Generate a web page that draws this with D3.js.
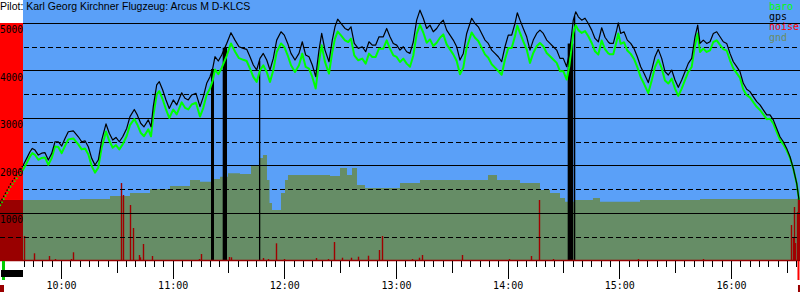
<!DOCTYPE html>
<html>
<head>
<meta charset="utf-8">
<script src="https://cdn.jsdelivr.net/npm/d3@7"></script>
<style>
  body { margin: 0; background: #fff; }
  svg { display: block; }
</style>
</head>
<body>
<div id="chart"></div>
<script>
// flight trace
var times = [
  "09:27:13","09:33:08","09:39:45","09:41:34","09:43:20","09:44:35","09:46:02","09:47:48","09:49:38","09:51:24",
  "09:53:11","09:55:00","09:56:47","09:58:33","10:00:23","10:02:09","10:03:55","10:06:37","10:09:18","10:11:07",
  "10:12:54","10:14:40","10:16:30","10:18:16","10:20:02","10:21:52","10:24:11","10:25:57","10:27:47","10:29:33",
  "10:31:20","10:33:09","10:35:18","10:37:04","10:39:23","10:41:00","10:42:49","10:44:36","10:46:55","10:48:22",
  "10:49:35","10:51:25","10:52:49","10:54:39","10:56:25","10:58:11","11:00:20","11:02:10","11:04:51","11:06:38",
  "11:08:24","11:10:14","11:12:32","11:14:41","11:16:28","11:18:17","11:20:04","11:21:31","11:22:45","11:24:31",
  "11:26:21","11:29:02","11:31:20","11:33:29","11:35:38","11:37:57","11:39:47","11:41:33","11:43:20","11:45:09",
  "11:46:55","11:48:42","11:50:32","11:52:18","11:54:04","11:55:54","11:58:13","11:59:59","12:01:49","12:03:35",
  "12:05:44","12:07:53","12:09:39","12:11:29","12:13:15","12:15:02","12:16:51","12:18:38","12:20:05","12:21:51",
  "12:24:00","12:25:46","12:27:13","12:28:40","12:30:27","12:32:36","12:34:22","12:35:49","12:37:35","12:39:44",
  "12:41:53","12:43:43","12:45:29","12:47:16","12:49:05","12:50:52","12:53:10","12:55:00","12:56:46","12:58:33",
  "13:00:22","13:02:09","13:03:55","13:05:45","13:07:31","13:09:17","13:11:07","13:12:53","13:14:40","13:16:29",
  "13:18:16","13:20:02","13:21:52","13:23:38","13:25:25","13:27:14","13:29:01","13:30:47","13:32:37","13:34:23",
  "13:36:10","13:37:59","13:40:40","13:42:27","13:44:13","13:46:03","13:47:49","13:49:35","13:51:25","13:53:11",
  "13:54:58","13:56:47","13:58:34","14:00:20","14:02:10","14:03:56","14:05:11","14:06:38","14:08:24","14:10:14",
  "14:12:00","14:13:46","14:15:36","14:17:22","14:19:09","14:20:59","14:22:45","14:24:31","14:26:21","14:28:07",
  "14:29:54","14:31:43","14:33:07","14:34:25","14:35:16","14:36:34","14:37:58","14:39:47","14:41:34","14:43:20",
  "14:45:10","14:46:56","14:48:43","14:50:32","14:52:18","14:54:05","14:55:00","14:56:46","14:58:35","14:59:27",
  "15:00:44","15:02:31","15:04:17","15:06:07","15:07:53","15:09:40","15:11:29","15:13:16","15:15:34","15:17:24",
  "15:19:10","15:20:56","15:22:46","15:24:32","15:26:19","15:28:09","15:29:55","15:31:41","15:33:31","15:35:17",
  "15:37:04","15:38:53","15:40:40","15:42:07","15:43:21","15:45:08","15:46:57","15:48:44","15:50:30","15:52:20",
  "15:54:06","15:55:52","15:57:42","15:59:28","16:01:15","16:03:04","16:04:50","16:06:37","16:08:27","16:10:13",
  "16:11:59","16:13:49","16:15:35","16:17:22","16:19:11","16:20:58","16:22:44","16:24:34","16:26:20","16:28:07",
  "16:29:56","16:31:43","16:33:29","16:35:19","16:36:33"
];
var gps = [
  1210,1630,2010,2150,2290,2360,2325,2220,2260,2270,
  2115,2255,2500,2500,2410,2570,2710,2730,2605,2500,
  2520,2395,2150,2010,2115,2535,2875,2680,2535,2590,
  2500,2605,2780,3030,3180,3065,2890,2815,2960,2815,
  3240,3695,3765,3590,3380,3200,3380,3275,3530,3415,
  3380,3485,3520,3240,3445,3730,3870,4045,4290,4200,
  4325,4570,4795,4640,4500,4465,4445,4290,4115,4010,
  4255,4360,4220,4010,4255,4640,4815,4745,4570,4360,
  4220,4360,4605,4325,4290,4115,3870,4430,4780,4430,
  4185,4640,4920,5080,4990,4885,4850,4920,4570,4465,
  4500,4395,4605,4535,4535,4710,4710,4885,4710,4570,
  4535,4430,4500,4395,4360,4600,5060,5270,5100,4885,
  4955,4815,4885,4990,5060,4850,4745,4640,4500,4220,
  4360,4780,5100,4990,4920,4780,4640,4570,4430,4360,
  4290,4185,4500,4745,4745,4990,5215,5060,4885,4710,
  4430,4640,4780,4850,4780,4640,4570,4500,4430,4255,
  4255,4080,4360,4780,5060,5235,5130,5060,5100,4990,
  4850,4675,4605,4900,4700,4600,4570,4570,4850,5005,
  4780,4815,4640,4570,4465,4290,4080,3940,3745,4010,
  4290,4445,4255,3975,3905,4010,3800,3645,3800,3975,
  4150,4255,4710,4955,4570,4640,4570,4605,4780,4815,
  4710,4605,4570,4360,4185,4080,3975,3730,3605,3555,
  3450,3345,3275,3170,3065,3065,2960,2780,2605,2500,
  2360,2185,1940,1625,1275
];
var baro = [
  1150,1560,1920,2050,2190,2260,2225,2120,2160,2170,
  2015,2155,2400,2390,2260,2410,2550,2570,2445,2340,
  2360,2235,1990,1850,1955,2375,2715,2520,2375,2430,
  2340,2445,2620,2850,2980,2865,2690,2615,2760,2615,
  3040,3495,3565,3390,3180,3000,3180,3075,3330,3215,
  3180,3285,3320,3030,3215,3490,3620,3790,4020,3920,
  4055,4310,4570,4400,4260,4225,4200,4040,3865,3760,
  4005,4110,3970,3760,4005,4390,4570,4495,4320,4110,
  3970,4110,4355,4075,4040,3865,3620,4180,4530,4180,
  3935,4390,4670,4820,4740,4635,4600,4670,4320,4215,
  4250,4145,4355,4285,4285,4460,4460,4635,4460,4320,
  4285,4180,4250,4145,4080,4310,4770,4960,4800,4585,
  4655,4515,4585,4690,4760,4550,4445,4340,4200,3920,
  4060,4480,4800,4690,4620,4480,4340,4270,4130,4060,
  3990,3910,4230,4475,4475,4720,4945,4790,4615,4440,
  4160,4370,4510,4580,4510,4370,4300,4230,4160,3985,
  3985,3810,4090,4510,4790,4955,4850,4790,4830,4720,
  4580,4405,4335,4630,4450,4360,4340,4340,4620,4780,
  4560,4595,4420,4350,4245,4070,3860,3720,3525,3790,
  4070,4225,4050,3790,3725,3830,3620,3465,3620,3795,
  3970,4075,4530,4780,4390,4460,4390,4425,4600,4635,
  4540,4450,4420,4215,4045,3945,3845,3600,3480,3435,
  3335,3235,3170,3075,2975,2985,2885,2710,2540,2445,
  2320,2160,1930,1620,1275
];

// terrain under the track (step values)
var gndTimes = [
  "09:39:35","10:10:12","10:26:20","10:37:04","10:47:49","10:58:34","11:09:19","11:14:41","11:21:40","11:25:26",
  "11:29:44","11:36:10","11:42:05","11:46:23","11:48:32","11:50:41","11:52:02","11:53:22","11:58:13","12:00:22",
  "12:01:58","12:24:32","12:29:55","12:33:40","12:36:22","12:39:03","12:43:20","13:02:09","13:12:53","13:49:26",
  "13:54:16","14:06:38","14:17:22","14:22:45","14:28:07","14:30:49","14:36:11","14:45:51","14:49:37","15:11:07",
  "15:43:21","16:36:45"
];
var gnd = [
  1274,1295,1358,1421,1505,1568,1695,1659,1716,1764,
  1836,1821,2010,2158,2221,1695,1210,1063,1421,1695,
  1800,1779,1947,1800,1947,1589,1526,1631,1695,1800,
  1695,1631,1484,1421,1316,1238,1274,1316,1238,1274,
  1295,1295
];

// engine noise level
var noiseTimes = [
  "09:40:17","09:45:39","09:53:43","09:56:47","10:05:22","10:06:37","10:32:14","10:33:03","10:37:04","10:38:41",
  "10:42:04","10:42:37","10:44:13","10:48:44","11:14:19","11:15:23","11:30:26","11:31:11","11:48:42","11:51:23",
  "11:55:41","11:59:59","12:16:51","12:23:37","12:26:41","12:30:49","12:35:40","12:39:44","12:45:07","12:51:01",
  "12:52:38","13:08:26","13:12:31","13:14:08","13:35:18","14:00:52","14:12:32","14:16:59","14:24:31","15:09:52",
  "15:45:07","16:32:14","16:33:08","16:34:00","16:34:32","16:35:19","16:36:00","16:36:33"
];
var noise = [
  516,152,95,32,32,173,1631,1379,1168,684,
  116,67,347,95,32,137,74,67,53,32,
  362,32,53,32,389,59,59,80,101,221,
  516,32,59,116,116,32,95,1274,32,32,
  32,747,495,1126,368,1021,1316,1274
];

// gaps in the gps record
var gaps = [
  ["11:20:36", "11:22:13"],
  ["11:26:53", "11:29:12"],
  ["11:46:23", "11:46:50"],
  ["14:32:15", "14:35:16"],
  ["14:35:38", "14:36:11"]
];

var takeoff = "09:29:06";
var landing = "16:36:16";
var rangeStart = "09:39:35";
var rangeEnd = "16:37:05";

var solidLevels = [1000, 2000, 3000, 4000, 5000];
var dashLevels = [500, 1500, 2500, 3500, 4500];
var title = "Pilot: Karl Georg Kirchner Flugzeug: Arcus M D-KLCS";
var legendNames = ["baro", "gps", "noise", "gnd"];
var legendColors = ["#00ff00", "#000000", "#ff0000", "#6b8c62"];

var width = 800, height = 300;
var left = 23, baseY = 260.5, topY = 23;
var blue = "#5aa0f8", gndColor = "#668d66", darkRed = "#990000";

var parse = d3.timeParse("%H:%M:%S");

var x = d3.scaleTime()
  .domain([parse(rangeStart), parse(rangeEnd)])
  .range([left, width]);
var y = d3.scaleLinear()
  .domain([0, 5000])
  .range([baseY, topY]);

var track = times.map(function(t, i) {
  return { t: parse(t), gps: gps[i], baro: baro[i] };
});
var ground = gndTimes.map(function(t, i) {
  return { t: parse(t), v: gnd[i] };
});

var svg = d3.select("#chart")
  .append("svg")
  .attr("width", width)
  .attr("height", height);

var defs = svg.append("defs");
defs.append("clipPath").attr("id", "plotClip")
  .append("rect").attr("x", left).attr("y", 0).attr("width", width - left).attr("height", baseY);
defs.append("clipPath").attr("id", "preClip")
  .append("rect").attr("x", 0).attr("y", 0).attr("width", left).attr("height", baseY);

svg.append("rect").attr("width", width).attr("height", height).attr("fill", "#fff");

// sky
svg.append("rect")
  .attr("x", left).attr("y", 0)
  .attr("width", width - left).attr("height", baseY)
  .attr("fill", blue);

// pre-start band, lower part
var gnd0 = y(gnd[0]);
svg.append("rect")
  .attr("x", 0).attr("y", gnd0)
  .attr("width", left).attr("height", baseY - gnd0)
  .attr("fill", darkRed);

// terrain
var gndArea = d3.area()
  .x(function(d) { return x(d.t); })
  .y0(baseY)
  .y1(function(d) { return y(d.v); })
  .curve(d3.curveStepAfter);
svg.append("path")
  .datum(ground)
  .attr("clip-path", "url(#plotClip)")
  .attr("fill", gndColor)
  .attr("d", gndArea);

// noise spikes
svg.append("g")
  .selectAll("line")
  .data(noise)
  .enter()
  .append("line")
  .attr("x1", function(d, i) { return Math.round(x(parse(noiseTimes[i]))) + 0.5; })
  .attr("x2", function(d, i) { return Math.round(x(parse(noiseTimes[i]))) + 0.5; })
  .attr("y1", baseY)
  .attr("y2", function(d) { return y(d); })
  .attr("stroke", "#a00000")
  .attr("stroke-width", 1.4);

// grid
var grid = svg.append("g").attr("shape-rendering", "crispEdges");
grid.selectAll("line.solid")
  .data(solidLevels)
  .enter()
  .append("line")
  .attr("class", "solid")
  .attr("x1", 0).attr("x2", width)
  .attr("y1", function(d) { return Math.round(y(d)) + 0.5; })
  .attr("y2", function(d) { return Math.round(y(d)) + 0.5; })
  .attr("stroke", "#000");
grid.selectAll("line.dash")
  .data(dashLevels)
  .enter()
  .append("line")
  .attr("class", "dash")
  .attr("x1", 0).attr("x2", width)
  .attr("y1", function(d) { return Math.round(y(d)) + 0.5; })
  .attr("y2", function(d) { return Math.round(y(d)) + 0.5; })
  .attr("stroke", "#000")
  .attr("stroke-dasharray", "5,3");

// pre-start band, upper part (over the grid)
svg.append("rect")
  .attr("x", 0).attr("y", topY)
  .attr("width", left).attr("height", gnd0 - topY)
  .attr("fill", "#ff0000");

// gps gaps
function gpsAt(t) {
  var i = d3.bisector(function(d) { return d.t; }).left(track, t);
  var a = track[Math.max(0, i - 1)], b = track[Math.min(track.length - 1, i)];
  if (a === b) return a.gps;
  var k = (t - a.t) / (b.t - a.t);
  return a.gps + (b.gps - a.gps) * k;
}
function gapMid(d) {
  return new Date((parse(d[0]).getTime() + parse(d[1]).getTime()) / 2);
}
svg.append("g")
  .selectAll("rect")
  .data(gaps)
  .enter()
  .append("rect")
  .attr("x", function(d) { return x(parse(d[0])); })
  .attr("width", function(d) { return Math.max(1.3, x(parse(d[1])) - x(parse(d[0]))); })
  .attr("y", function(d) { return y(gpsAt(gapMid(d))); })
  .attr("height", function(d) { return baseY - y(gpsAt(gapMid(d))); })
  .attr("fill", "#000");

// altitude curves
var baroLine = d3.line()
  .x(function(d) { return x(d.t); })
  .y(function(d) { return y(d.baro); });
var gpsLine = d3.line()
  .x(function(d) { return x(d.t); })
  .y(function(d) { return y(d.gps); });

svg.append("path").datum(track)
  .attr("clip-path", "url(#plotClip)")
  .attr("fill", "none").attr("stroke", "#00ff00").attr("stroke-width", 2)
  .attr("stroke-linejoin", "round")
  .attr("d", baroLine);
svg.append("path").datum(track)
  .attr("clip-path", "url(#plotClip)")
  .attr("fill", "none").attr("stroke", "#000").attr("stroke-width", 1.2)
  .attr("stroke-linejoin", "round")
  .attr("d", gpsLine);

// tow part over the red band, dotted
svg.append("path").datum(track.slice(0, 3))
  .attr("clip-path", "url(#preClip)")
  .attr("fill", "none").attr("stroke", "#00ff00").attr("stroke-width", 1.5)
  .attr("stroke-dasharray", "1.5,2")
  .attr("d", baroLine);
svg.append("path").datum(track.slice(0, 3))
  .attr("clip-path", "url(#preClip)")
  .attr("fill", "none").attr("stroke", "#000").attr("stroke-width", 1.3)
  .attr("stroke-dasharray", "1.5,2")
  .attr("d", gpsLine);

// altitude labels, squeezed into the band
svg.append("g")
  .selectAll("text")
  .data(solidLevels)
  .enter()
  .append("text")
  .attr("x", 0)
  .attr("y", function(d) { return y(d) + 10; })
  .attr("textLength", left)
  .attr("lengthAdjust", "spacingAndGlyphs")
  .attr("font-family", "DejaVu Sans Mono")
  .attr("font-size", 11)
  .attr("fill", "#000")
  .text(function(d) { return d; });

// title
svg.append("text")
  .attr("x", 0).attr("y", 10)
  .attr("font-family", "Liberation Sans, Arial, sans-serif")
  .attr("font-size", 10.5)
  .attr("fill", "#000")
  .text(title);

// legend
svg.append("g")
  .selectAll("text")
  .data(legendNames)
  .enter()
  .append("text")
  .attr("x", 769)
  .attr("y", function(d, i) { return 10 + i * 10.2; })
  .attr("font-family", "DejaVu Sans Mono")
  .attr("font-size", 10)
  .attr("fill", function(d, i) { return legendColors[i]; })
  .text(function(d) { return d; });

// time axis
svg.append("line")
  .attr("x1", 0).attr("x2", width)
  .attr("y1", 260.5).attr("y2", 260.5)
  .attr("stroke", darkRed).attr("stroke-width", 1.5);

function timeAxis(interval, size, fmt) {
  var g = svg.append("g")
    .attr("transform", "translate(0,261)")
    .call(d3.axisBottom(x).ticks(interval).tickSize(size).tickPadding(3).tickFormat(fmt));
  g.select(".domain").remove();
  g.selectAll("line").attr("stroke", "#000").attr("shape-rendering", "crispEdges");
  g.selectAll("text")
    .attr("font-family", "DejaVu Sans Mono")
    .attr("font-size", 10)
    .attr("fill", "#000");
  return g;
}
timeAxis(d3.timeMinute.every(5), 6, "");
timeAxis(d3.timeMinute.every(30), 12, "");
timeAxis(d3.timeHour.every(1), 18, d3.timeFormat("%H:%M"));

// takeoff / landing markers under the axis
var xt = x(parse(takeoff)), xl = x(parse(landing));
svg.append("rect").attr("x", xt - 1.5).attr("y", 261).attr("width", 3).attr("height", 19).attr("fill", "#00cc00");
svg.append("rect").attr("x", 1).attr("y", 270).attr("width", left - 1).attr("height", 7).attr("fill", "#000");
svg.append("rect").attr("x", 0).attr("y", 285).attr("width", 4).attr("height", 7).attr("fill", darkRed);
svg.append("rect").attr("x", xl - 1).attr("y", 261).attr("width", 2).attr("height", 19).attr("fill", "#ff0000");
svg.append("rect").attr("x", xl - 0.5).attr("y", 285).attr("width", 2).attr("height", 7).attr("fill", darkRed);
</script>
</body>
</html>
